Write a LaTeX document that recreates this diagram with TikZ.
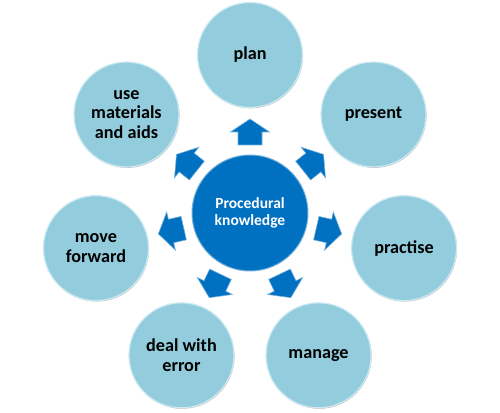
\documentclass[tikz,border=0pt]{standalone}
\usepackage{fontspec}
\setmainfont{Carlito}
\usetikzlibrary{shadows}
\definecolor{coreblue}{RGB}{0,112,192}
\definecolor{ringblue}{RGB}{147,205,221}
\definecolor{rimblue}{RGB}{205,234,242}
\tikzset{
  core/.style={circle, fill=coreblue, draw=coreblue!55!white, line width=1pt,
    minimum size=116pt, inner sep=0pt, text=white, align=center,
    font=\bfseries\fontsize{15.5}{16.5}\selectfont},
  topic/.style={circle, fill=ringblue, draw=rimblue, line width=1.2pt,
    minimum size=105pt, inner sep=0pt, align=center,
    font=\bfseries\fontsize{18.2}{19.5}\selectfont,
    drop shadow={shadow xshift=0.6pt, shadow yshift=-0.9pt, fill=black!35, opacity=0.8}},
  outarrow/.style={fill=coreblue, draw=coreblue!55!white, line width=0.6pt}
}
\begin{document}
\begin{tikzpicture}[x=1pt,y=1pt]
    \useasboundingbox (0,0) rectangle (500,412);

    \begin{scope}[shift={(250,199)}]
    \node[core] (core) at (0,0) {Procedural\\knowledge};
    \foreach \a/\n/\t in {90/plan/{plan}, 38.571/present/{present}, -12.857/practise/{practise},
        -64.286/manage/{manage}, -115.714/deal/{deal with\\error}, -167.143/move/{move\\forward},
        141.429/use/{use\\materials\\and aids}}
      \node[topic] (\n) at (\a:158) {\t};
    \foreach \a in {90,38.571,-12.857,-64.286,-115.714,-167.143,141.429}
      \filldraw[outarrow, rotate=\a] (68,-12) -- (81,-12) -- (81,-19.5) -- (94,0) -- (81,19.5) -- (81,12) -- (68,12) -- cycle;
    \end{scope}
\end{tikzpicture}
\end{document}
